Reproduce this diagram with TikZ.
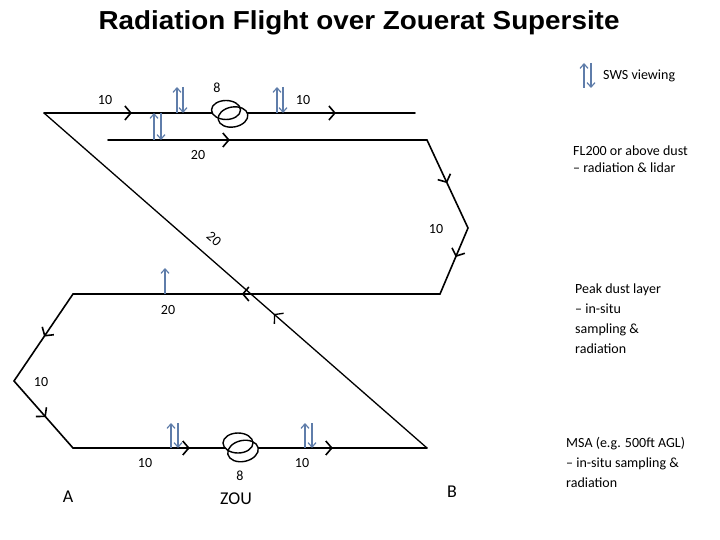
\documentclass[tikz,border=0pt]{standalone}
\usepackage{fontspec}
\setmainfont{Carlito}
\newfontfamily\titlefont{Liberation Sans}
\usetikzlibrary{arrows.meta,decorations.markings}
\definecolor{swsblue}{RGB}{95,125,170}
\begin{document}
\begin{tikzpicture}[x=1pt,y=-1pt,
  route/.style={line width=1.6pt, black, line cap=round},
  diag/.style={line width=1.3pt, black, line cap=round},
  chevtip/.tip={Straight Barb[length=6pt,width=14pt]},
  mk/.style={decoration={markings, mark=at position #1 with {\arrow{chevtip}}}, postaction={decorate}},
  mktwo/.style 2 args={decoration={markings, mark=at position #1 with {\arrow{chevtip}}, mark=at position #2 with {\arrow{chevtip}}}, postaction={decorate}},
  sws/.style={draw=swsblue, line width=1.2pt, -{Straight Barb[length=4.5pt,width=8pt]}},
  loopring/.style={draw=black, line width=1.4pt},
  lbl/.style={font=\fontsize{14}{17}\selectfont, inner sep=0pt},
  big/.style={font=\fontsize{18}{20}\selectfont, inner sep=0pt},
  side/.style={font=\fontsize{14}{20}\selectfont, inner sep=0pt, anchor=base west, align=left}
]
\useasboundingbox (0,0) rectangle (720,540);

% title
\node[inner sep=0pt, anchor=base, font=\titlefont\bfseries\fontsize{26}{30}\selectfont, xscale=1.07] (title) at (359,30) {Radiation Flight over Zouerat Supersite};

% route corners
\coordinate (A0) at (44,113);
\coordinate (T1) at (415,113);
\coordinate (S0) at (108,140);
\coordinate (S1) at (427,140);
\coordinate (R1) at (468,228);
\coordinate (P0) at (440,294);
\coordinate (P1) at (73,294);
\coordinate (L1) at (14,381);
\coordinate (B0) at (73,448);
\coordinate (B1) at (427,448);

\draw[route, mktwo={0.237}{0.787}] (A0) -- (T1);
\draw[route, mk={0.382}] (S0) -- (S1);
\draw[route, mk={0.49}] (S1) -- (R1);
\draw[route, mk={0.44}] (R1) -- (P0);
\draw[route, mk={0.54}] (P0) -- (P1);
\draw[route, mk={0.49}] (P1) -- (L1);
\draw[route, mk={0.54}] (L1) -- (B0);
\draw[route, mktwo={0.33}{0.734}] (B0) -- (B1);
\draw[diag, mk={0.40}] (B1) -- (A0);

% loops (orbits)
\fill[white] (226,110) ellipse [x radius=14.5pt, y radius=9.5pt];
\fill[white, rotate around={10:(233,117)}] (233,117) ellipse [x radius=15pt, y radius=10pt];
\draw[loopring] (226,110) ellipse [x radius=14.5pt, y radius=9.5pt];
\draw[loopring, rotate around={10:(233,117)}] (233,117) ellipse [x radius=15pt, y radius=10pt];
\fill[white] (238,443) ellipse [x radius=15pt, y radius=10pt];
\fill[white, rotate around={12:(243,451)}] (243,451) ellipse [x radius=15.5pt, y radius=10.5pt];
\draw[loopring] (238,443) ellipse [x radius=15pt, y radius=10pt];
\draw[loopring, rotate around={12:(243,451)}] (243,451) ellipse [x radius=15.5pt, y radius=10.5pt];

% SWS viewing arrows
\coordinate (u1a) at (177,113); \coordinate (u1b) at (177,87);
\coordinate (d1a) at (183,87);  \coordinate (d1b) at (183,113);
\coordinate (u2a) at (277,113); \coordinate (u2b) at (277,87);
\coordinate (d2a) at (283,87);  \coordinate (d2b) at (283,113);
\coordinate (u3a) at (154,140); \coordinate (u3b) at (154,113);
\coordinate (d3a) at (161,113); \coordinate (d3b) at (161,140);
\coordinate (u4a) at (165,294); \coordinate (u4b) at (165,268);
\coordinate (u5a) at (171,448); \coordinate (u5b) at (171,423);
\coordinate (d5a) at (178,423); \coordinate (d5b) at (178,448);
\coordinate (u6a) at (305,448); \coordinate (u6b) at (305,423);
\coordinate (d6a) at (312,423); \coordinate (d6b) at (312,448);
\coordinate (u7a) at (584,88);  \coordinate (u7b) at (584,63);
\coordinate (d7a) at (591,63);  \coordinate (d7b) at (591,88);
\foreach \p in {1,2,3,5,6,7}{
  \draw[sws] (u\p a) -- (u\p b);
  \draw[sws] (d\p a) -- (d\p b);
}
\draw[sws] (u4a) -- (u4b);

% numeric labels
\node[lbl] (n1) at (105,100) {10};
\node[lbl] (n2) at (217,88) {8};
\node[lbl] (n3) at (303,100) {10};
\node[lbl] (n4) at (198,155) {20};
\node[lbl] (n5) at (436,229) {10};
\node[lbl, rotate=-41] (n6) at (214,239) {20};
\node[lbl] (n7) at (168,310) {20};
\node[lbl] (n8) at (41,382) {10};
\node[lbl] (n9) at (145,463) {10};
\node[lbl] (n10) at (240,476) {8};
\node[lbl] (n11) at (302,463) {10};

\node[big] (pa) at (68,497) {A};
\node[big] (zou) at (236,499) {ZOU};
\node[big] (pb) at (452,492) {B};

% side legend texts (base anchor = baseline of last line)
\node[side] (leg) at (603,80) {SWS viewing};
\node[side, font=\fontsize{14}{16.5}\selectfont] (fl) at (573,172.5) {FL200 or above dust\\– radiation \& lidar};
\node[side] (pk) at (575,353) {Peak dust layer\\– in-situ\\sampling \&\\radiation};
\node[side] (msa) at (566,487) {MSA (e.g. 500ft AGL)\\– in-situ sampling \&\\radiation};
\end{tikzpicture}
\end{document}
